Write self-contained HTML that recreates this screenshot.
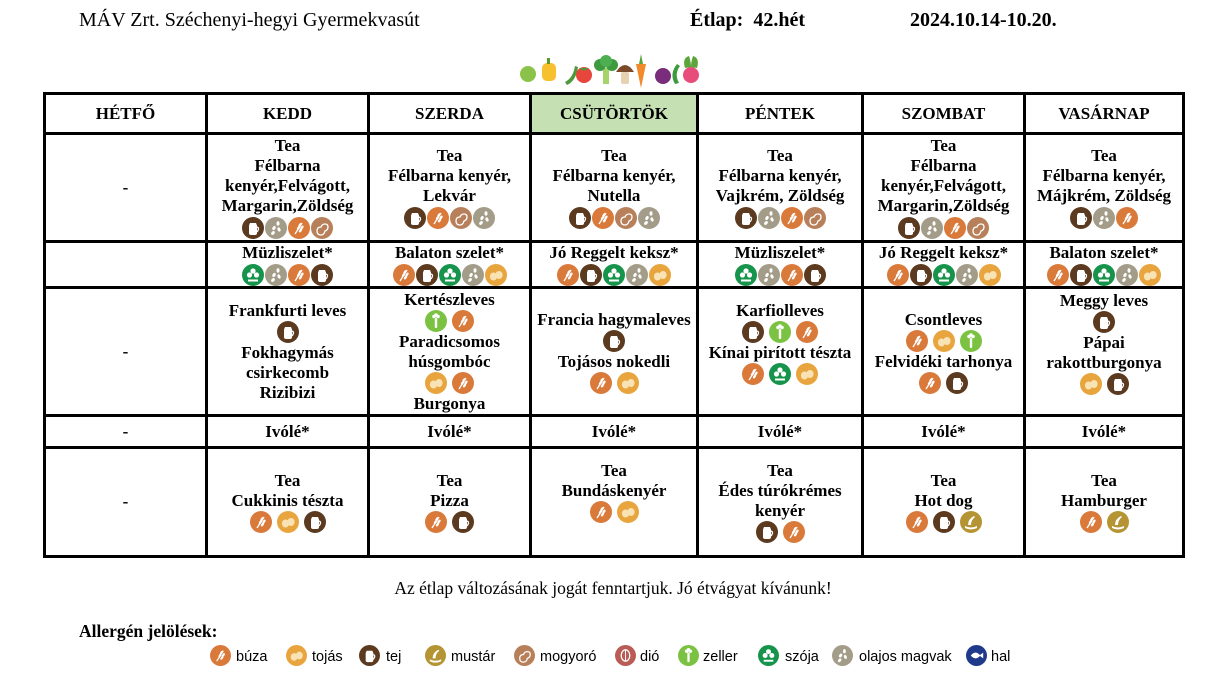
<!DOCTYPE html>
<html><head><meta charset="utf-8">
<style>
body{margin:0;width:1226px;height:681px;background:#fff;position:relative;overflow:hidden;font-family:"Liberation Serif",serif;color:#000}
.a{position:absolute;white-space:nowrap}
.v{position:absolute;background:#000;width:3px;top:92px;height:466px}
.h{position:absolute;background:#000;height:3px;left:43px;width:1142px}
.c{position:absolute;display:flex;flex-direction:column;align-items:center;justify-content:center;text-align:center;font-weight:bold;font-size:17px;line-height:20px;white-space:nowrap}
.i{display:flex;height:23px;align-items:center;justify-content:center}
.i svg{width:22px;height:22px;margin:0 0.5px;display:block}
.g{height:22px}
.g svg{margin:0 2.5px}
.c0{left:46px;width:159px}.c1{left:208px;width:159px}.c2{left:370px;width:159px}.c3{left:532px;width:164px}.c4{left:699px;width:162px}.c5{left:864px;width:159px}.c6{left:1026px;width:156px}
.r0{top:95px;height:37px}.r1{top:135px;height:105px}.r2{top:243px;height:43px}.r3{top:289px;height:125px}.r4{top:417px;height:29px}.r5{top:449px;height:106px}
.lg{position:absolute;top:645px;width:21px;height:21px}
.lt{position:absolute;top:648px;font-family:"Liberation Sans",sans-serif;font-size:14.5px;line-height:18px}
</style></head><body>
<svg width="0" height="0" style="position:absolute">
<defs>
<symbol id="bu" viewBox="0 0 22 22"><circle cx="11" cy="11" r="11" fill="#D97A3B"/><path d="M7 17 L14 6" stroke="#fff" stroke-width="1.3" fill="none"/><ellipse cx="12" cy="8" rx="1.2" ry="2.2" fill="#fff" transform="rotate(35 12 8)"/><ellipse cx="10.5" cy="11" rx="1.2" ry="2.2" fill="#fff" transform="rotate(35 10.5 11)"/><ellipse cx="14" cy="10.5" rx="1.2" ry="2.2" fill="#fff" transform="rotate(35 14 10.5)"/><ellipse cx="12.5" cy="13.5" rx="1.2" ry="2.2" fill="#fff" transform="rotate(35 12.5 13.5)"/></symbol>
<symbol id="to" viewBox="0 0 22 22"><circle cx="11" cy="11" r="11" fill="#E8A53E"/><ellipse cx="8.5" cy="12.5" rx="3.6" ry="4" fill="#F9E2B4"/><ellipse cx="14" cy="11" rx="3.6" ry="4" fill="#F9E2B4"/></symbol>
<symbol id="tej" viewBox="0 0 22 22"><circle cx="11" cy="11" r="11" fill="#5B3A1F"/><path d="M8 6 h6 l1 2.5 v7.5 a2 2 0 0 1 -2 2 h-4 a2 2 0 0 1 -2 -2 v-7.5z" fill="#fff"/><path d="M15 10 q3 1 0 5" stroke="#fff" stroke-width="1.3" fill="none"/></symbol>
<symbol id="mu" viewBox="0 0 22 22"><circle cx="11" cy="11" r="11" fill="#B59433"/><path d="M5 15 q6 3 12 0 v2 q-6 3 -12 0z" fill="#fff"/><path d="M8 14 q0 -6 6 -9 l1 1 q-4 3 -4 8z" fill="#fff"/></symbol>
<symbol id="mo" viewBox="0 0 22 22"><circle cx="11" cy="11" r="11" fill="#B8805A"/><path d="M6 14 q0 -4 4 -4 q1 -3 4 -3 q3 0 3 3 q0 3 -3 4 q-1 4 -4 4 q-4 0 -4 -4z" fill="none" stroke="#fff" stroke-width="1.3"/></symbol>
<symbol id="di" viewBox="0 0 22 22"><circle cx="11" cy="11" r="11" fill="#B95C55"/><ellipse cx="11" cy="11" rx="4.5" ry="6" fill="none" stroke="#fff" stroke-width="1.3"/><path d="M11 5 v12" stroke="#fff" stroke-width="1"/></symbol>
<symbol id="ze" viewBox="0 0 22 22"><circle cx="11" cy="11" r="11" fill="#7CC242"/><rect x="9.8" y="8" width="2.4" height="10" rx="1" fill="#fff"/><circle cx="9" cy="6.5" r="1.8" fill="#fff"/><circle cx="13" cy="6.5" r="1.8" fill="#fff"/><circle cx="11" cy="5" r="1.8" fill="#fff"/></symbol>
<symbol id="sz" viewBox="0 0 22 22"><circle cx="11" cy="11" r="11" fill="#17944B"/><circle cx="11" cy="7" r="2.6" fill="#fff"/><circle cx="7.5" cy="11" r="2.6" fill="#fff"/><circle cx="14.5" cy="11" r="2.6" fill="#fff"/><rect x="6" y="15.5" width="10" height="2" fill="#fff"/></symbol>
<symbol id="ol" viewBox="0 0 22 22"><circle cx="11" cy="11" r="11" fill="#A39C88"/><ellipse cx="13" cy="6.5" rx="1.5" ry="2.2" fill="#fff"/><ellipse cx="9" cy="11" rx="1.5" ry="2.2" fill="#fff" transform="rotate(30 9 11)"/><ellipse cx="14" cy="12.5" rx="1.5" ry="2.2" fill="#fff" transform="rotate(-20 14 12.5)"/><ellipse cx="8" cy="16" rx="1.5" ry="2.2" fill="#fff" transform="rotate(40 8 16)"/></symbol>
<symbol id="ha" viewBox="0 0 22 22"><circle cx="11" cy="11" r="11" fill="#1F3A8A"/><path d="M5 11 q5 -6 10 0 q-5 6 -10 0z" fill="#fff"/><path d="M14 11 l4 -3 v6z" fill="#fff"/></symbol>
</defs></svg>

<div class="a" style="left:79px;top:8px;font-size:20px;line-height:24px">MÁV Zrt. Széchenyi-hegyi Gyermekvasút</div>
<div class="a" style="left:690px;top:8px;font-size:20px;line-height:24px;font-weight:bold">Étlap:&nbsp; 42.hét</div>
<div class="a" style="left:910px;top:8px;font-size:20px;line-height:24px;font-weight:bold">2024.10.14-10.20.</div>

<svg class="a" style="left:515px;top:52px" width="190" height="40" viewBox="0 0 190 40">
<circle cx="13" cy="22" r="8" fill="#8BC34A"/>
<rect x="27" y="11" width="14" height="18" rx="5" fill="#F6C02E"/><rect x="32" y="6" width="3" height="6" fill="#5a9a2a"/>
<path d="M50 30 q8 -4 10 -16 l3 1 q-2 14 -11 18z" fill="#4E9A3A"/>
<circle cx="69" cy="23" r="8" fill="#E8453C"/><path d="M64 16 h10 l-5 3z" fill="#4E9A3A"/>
<rect x="88" y="16" width="6" height="16" fill="#A5D46A"/><circle cx="85" cy="13" r="6" fill="#3E9A3E"/><circle cx="97" cy="13" r="6" fill="#3E9A3E"/><circle cx="91" cy="9" r="6" fill="#4CAF50"/>
<path d="M101 20 q9 -14 18 0z" fill="#7A4A2A"/><rect x="106" y="20" width="8" height="12" rx="2" fill="#E6D2B0"/>
<path d="M121 12 h10 l-5 24z" fill="#F08A2A"/><path d="M124 12 l2 -10 l2 10z" fill="#5BA53A"/>
<circle cx="148" cy="24" r="8" fill="#7A2D7A"/>
<path d="M160 32 q-6 -10 2 -20 l3 2 q-6 8 -1 17z" fill="#3E9A3E"/>
<circle cx="176" cy="23" r="8" fill="#E84C7A"/><path d="M170 16 q-3 -10 4 -12 q2 6 2 11z M182 16 q3 -10 -4 -12 q-2 6 -2 11z" fill="#5BA53A"/>
</svg>

<div class="a" style="left:532px;top:95px;width:164px;height:37px;background:#C5E0B3"></div>

<div class="v" style="left:43px"></div><div class="v" style="left:205px"></div><div class="v" style="left:367px"></div><div class="v" style="left:529px"></div><div class="v" style="left:696px"></div><div class="v" style="left:861px"></div><div class="v" style="left:1023px"></div><div class="v" style="left:1182px"></div>
<div class="h" style="top:92px"></div><div class="h" style="top:132px"></div><div class="h" style="top:240px"></div><div class="h" style="top:286px"></div><div class="h" style="top:414px"></div><div class="h" style="top:446px"></div><div class="h" style="top:555px"></div>

<div class="c c0 r0">HÉTFŐ</div><div class="c c1 r0">KEDD</div><div class="c c2 r0">SZERDA</div><div class="c c3 r0">CSÜTÖRTÖK</div><div class="c c4 r0">PÉNTEK</div><div class="c c5 r0">SZOMBAT</div><div class="c c6 r0">VASÁRNAP</div>

<div class="c c0 r1">-</div>
<div class="c c1 r1"><div>Tea</div><div>Félbarna</div><div>kenyér,Felvágott,</div><div>Margarin,Zöldség</div><div class="i"><svg><use href="#tej"/></svg><svg><use href="#ol"/></svg><svg><use href="#bu"/></svg><svg><use href="#mo"/></svg></div></div>
<div class="c c2 r1"><div>Tea</div><div>Félbarna kenyér,</div><div>Lekvár</div><div class="i"><svg><use href="#tej"/></svg><svg><use href="#bu"/></svg><svg><use href="#mo"/></svg><svg><use href="#ol"/></svg></div></div>
<div class="c c3 r1"><div>Tea</div><div>Félbarna kenyér,</div><div>Nutella</div><div class="i"><svg><use href="#tej"/></svg><svg><use href="#bu"/></svg><svg><use href="#mo"/></svg><svg><use href="#ol"/></svg></div></div>
<div class="c c4 r1"><div>Tea</div><div>Félbarna kenyér,</div><div>Vajkrém, Zöldség</div><div class="i"><svg><use href="#tej"/></svg><svg><use href="#ol"/></svg><svg><use href="#bu"/></svg><svg><use href="#mo"/></svg></div></div>
<div class="c c5 r1"><div>Tea</div><div>Félbarna</div><div>kenyér,Felvágott,</div><div>Margarin,Zöldség</div><div class="i"><svg><use href="#tej"/></svg><svg><use href="#ol"/></svg><svg><use href="#bu"/></svg><svg><use href="#mo"/></svg></div></div>
<div class="c c6 r1"><div>Tea</div><div>Félbarna kenyér,</div><div>Májkrém, Zöldség</div><div class="i"><svg><use href="#tej"/></svg><svg><use href="#ol"/></svg><svg><use href="#bu"/></svg></div></div>

<div class="c c1 r2"><div>Müzliszelet*</div><div class="i"><svg><use href="#sz"/></svg><svg><use href="#ol"/></svg><svg><use href="#bu"/></svg><svg><use href="#tej"/></svg></div></div>
<div class="c c2 r2"><div>Balaton szelet*</div><div class="i"><svg><use href="#bu"/></svg><svg><use href="#tej"/></svg><svg><use href="#sz"/></svg><svg><use href="#ol"/></svg><svg><use href="#to"/></svg></div></div>
<div class="c c3 r2"><div>Jó Reggelt keksz*</div><div class="i"><svg><use href="#bu"/></svg><svg><use href="#tej"/></svg><svg><use href="#sz"/></svg><svg><use href="#ol"/></svg><svg><use href="#to"/></svg></div></div>
<div class="c c4 r2"><div>Müzliszelet*</div><div class="i"><svg><use href="#sz"/></svg><svg><use href="#ol"/></svg><svg><use href="#bu"/></svg><svg><use href="#tej"/></svg></div></div>
<div class="c c5 r2"><div>Jó Reggelt keksz*</div><div class="i"><svg><use href="#bu"/></svg><svg><use href="#tej"/></svg><svg><use href="#sz"/></svg><svg><use href="#ol"/></svg><svg><use href="#to"/></svg></div></div>
<div class="c c6 r2"><div>Balaton szelet*</div><div class="i"><svg><use href="#bu"/></svg><svg><use href="#tej"/></svg><svg><use href="#sz"/></svg><svg><use href="#ol"/></svg><svg><use href="#to"/></svg></div></div>

<div class="c c0 r3">-</div>
<div class="c c1 r3"><div>Frankfurti leves</div><div class="i g"><svg><use href="#tej"/></svg></div><div>Fokhagymás</div><div>csirkecomb</div><div>Rizibizi</div></div>
<div class="c c2 r3"><div>Kertészleves</div><div class="i g"><svg><use href="#ze"/></svg><svg><use href="#bu"/></svg></div><div>Paradicsomos</div><div>húsgombóc</div><div class="i g"><svg><use href="#to"/></svg><svg><use href="#bu"/></svg></div><div>Burgonya</div></div>
<div class="c c3 r3"><div>Francia hagymaleves</div><div class="i g"><svg><use href="#tej"/></svg></div><div>Tojásos nokedli</div><div class="i g"><svg><use href="#bu"/></svg><svg><use href="#to"/></svg></div></div>
<div class="c c4 r3" style="padding-bottom:18px;box-sizing:border-box"><div>Karfiolleves</div><div class="i g"><svg><use href="#tej"/></svg><svg><use href="#ze"/></svg><svg><use href="#bu"/></svg></div><div>Kínai pirított tészta</div><div class="i g"><svg><use href="#bu"/></svg><svg><use href="#sz"/></svg><svg><use href="#to"/></svg></div></div>
<div class="c c5 r3"><div>Csontleves</div><div class="i g"><svg><use href="#bu"/></svg><svg><use href="#to"/></svg><svg><use href="#ze"/></svg></div><div>Felvidéki tarhonya</div><div class="i g"><svg><use href="#bu"/></svg><svg><use href="#tej"/></svg></div></div>
<div class="c c6 r3" style="padding-bottom:18px;box-sizing:border-box"><div>Meggy leves</div><div class="i g"><svg><use href="#tej"/></svg></div><div>Pápai</div><div>rakottburgonya</div><div class="i g"><svg><use href="#to"/></svg><svg><use href="#tej"/></svg></div></div>

<div class="c c0 r4">-</div><div class="c c1 r4">Ivólé*</div><div class="c c2 r4">Ivólé*</div><div class="c c3 r4">Ivólé*</div><div class="c c4 r4">Ivólé*</div><div class="c c5 r4">Ivólé*</div><div class="c c6 r4">Ivólé*</div>

<div class="c c0 r5">-</div>
<div class="c c1 r5"><div>Tea</div><div>Cukkinis tészta</div><div class="i g"><svg><use href="#bu"/></svg><svg><use href="#to"/></svg><svg><use href="#tej"/></svg></div></div>
<div class="c c2 r5"><div>Tea</div><div>Pizza</div><div class="i g"><svg><use href="#bu"/></svg><svg><use href="#tej"/></svg></div></div>
<div class="c c3 r5" style="padding-bottom:20px;box-sizing:border-box"><div>Tea</div><div>Bundáskenyér</div><div class="i g"><svg><use href="#bu"/></svg><svg><use href="#to"/></svg></div></div>
<div class="c c4 r5"><div>Tea</div><div>Édes túrókrémes</div><div>kenyér</div><div class="i g"><svg><use href="#tej"/></svg><svg><use href="#bu"/></svg></div></div>
<div class="c c5 r5"><div>Tea</div><div>Hot dog</div><div class="i g"><svg><use href="#bu"/></svg><svg><use href="#tej"/></svg><svg><use href="#mu"/></svg></div></div>
<div class="c c6 r5"><div>Tea</div><div>Hamburger</div><div class="i g"><svg><use href="#bu"/></svg><svg><use href="#mu"/></svg></div></div>

<div class="a" style="left:0;width:1226px;top:578px;text-align:center;font-size:17.5px;line-height:20px">Az étlap változásának jogát fenntartjuk. Jó étvágyat kívánunk!</div>
<div class="a" style="left:79px;top:621px;font-size:17.5px;line-height:20px;font-weight:bold">Allergén jelölések:</div>

<svg class="lg" style="left:210px"><use href="#bu"/></svg><div class="lt" style="left:236px">búza</div>
<svg class="lg" style="left:286px"><use href="#to"/></svg><div class="lt" style="left:312px">tojás</div>
<svg class="lg" style="left:359px"><use href="#tej"/></svg><div class="lt" style="left:386px">tej</div>
<svg class="lg" style="left:425px"><use href="#mu"/></svg><div class="lt" style="left:451px">mustár</div>
<svg class="lg" style="left:514px"><use href="#mo"/></svg><div class="lt" style="left:540px">mogyoró</div>
<svg class="lg" style="left:615px"><use href="#di"/></svg><div class="lt" style="left:640px">dió</div>
<svg class="lg" style="left:678px"><use href="#ze"/></svg><div class="lt" style="left:703px">zeller</div>
<svg class="lg" style="left:758px"><use href="#sz"/></svg><div class="lt" style="left:785px">szója</div>
<svg class="lg" style="left:832px"><use href="#ol"/></svg><div class="lt" style="left:859px">olajos magvak</div>
<svg class="lg" style="left:966px"><use href="#ha"/></svg><div class="lt" style="left:991px">hal</div>
</body></html>
